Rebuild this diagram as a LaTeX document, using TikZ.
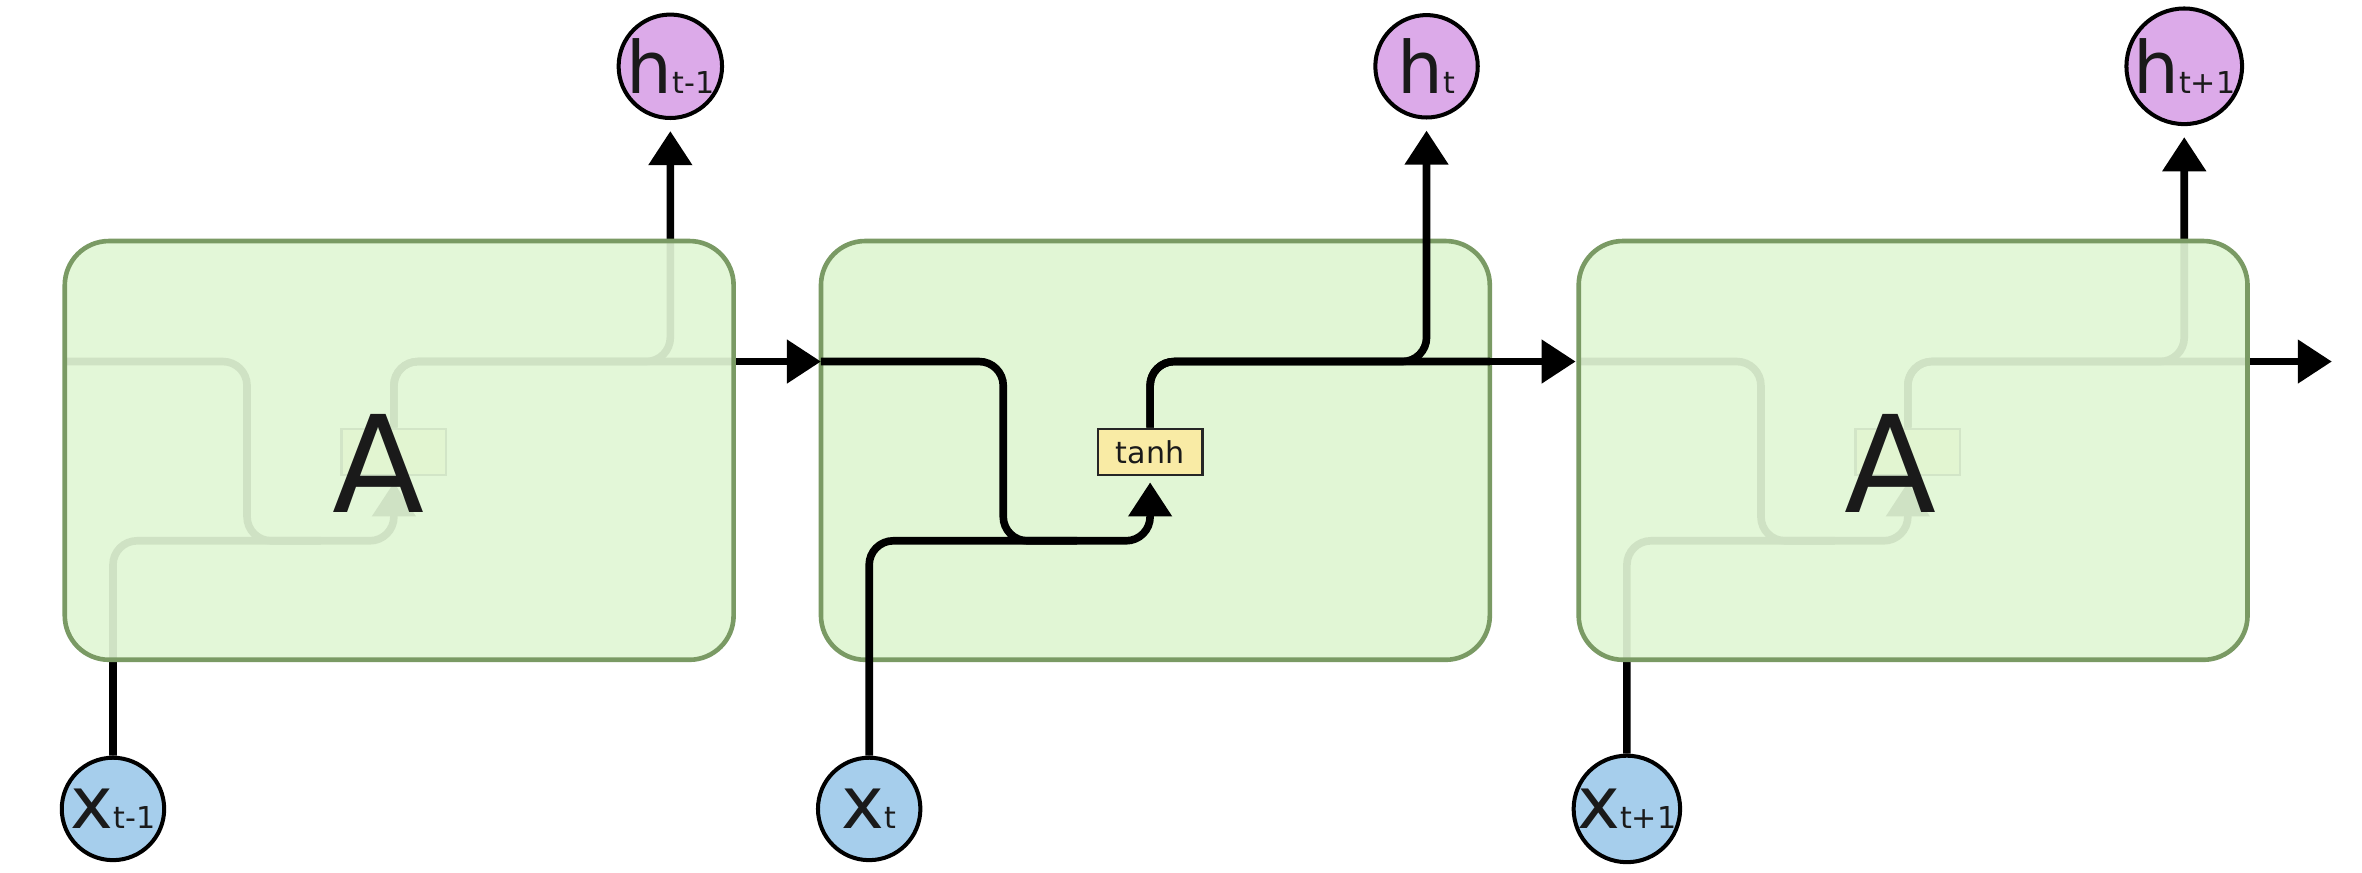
\documentclass[tikz,border=0pt]{standalone}
\usepackage{fontspec}
\setmainfont{DejaVu Sans}
\usetikzlibrary{arrows.meta}
\pgfdeclarelayer{fg}
\pgfsetlayers{main,fg}
\definecolor{boxfill}{RGB}{225,246,213}
\definecolor{boxedge}{RGB}{122,154,100}
\definecolor{hfill}{RGB}{220,170,233}
\definecolor{xfill}{RGB}{166,206,236}
\definecolor{tfill}{RGB}{249,235,165}
\definecolor{ink}{RGB}{26,26,26}
\newcommand\mkcirclab[2]{{\fontsize{36}{36}\selectfont #1}{\fontsize{15}{15}\selectfont #2}}
\begin{document}
\begin{tikzpicture}[x=0.75pt,y=-0.75pt,
  cell/.style={draw=boxedge, line width=2.3pt, fill=boxfill, rounded corners=22pt,
    minimum width=333pt, minimum height=208.5pt, inner sep=0pt},
  fadedcell/.style={cell, fill opacity=0.92},
  bigA/.style={font=\fontsize{67}{67}\selectfont, text=ink, inner sep=0pt, anchor=base},
  hnode/.style={circle, draw=black, line width=2pt, fill=hfill, minimum size=51pt, inner sep=0pt, text=ink},
  xnode/.style={circle, draw=black, line width=2pt, fill=xfill, minimum size=51pt, inner sep=0pt, text=ink},
  tanhbox/.style={draw=black!85, line width=1.3pt, fill=tfill, minimum width=52pt, minimum height=23pt,
    inner sep=0pt, font=\fontsize{15}{15}\selectfont, text=ink},
  wire/.style={draw=black, line width=3.8pt, rounded corners=12pt},
  arr/.style={-{Triangle[length=17pt,width=21pt]}}
]
\useasboundingbox (0,0) rectangle (1568,579);

% middle cell (opaque, lines on top)
\node[cell] (A2) at (767,299) {};

% outer cells drawn on top of their inner wiring (faded)
\begin{pgfonlayer}{fg}
  \node[fadedcell] (A1) at (265,299) {};
  \node[fadedcell] (A3) at (1270,299) {};
  \node[bigA] (lA1) at (251.5,340) {A};
  \node[bigA] (lA3) at (1255,340) {A};
\end{pgfonlayer}

\foreach \i/\L in {1/43, 2/545, 3/1048} {
  \node[hnode] (h\i) at (\L+402,44) {\mkcirclab{h}{\ifcase\i\or t-1\or t\or t+1\fi}};
  \node[xnode] (x\i) at (\L+32,537) {\mkcirclab{x}{\ifcase\i\or t-1\or t\or t+1\fi}};
  \ifnum\i=2
    \node[tanhbox] (t\i) at (\L+218.5,300) {tanh};
  \else
    \node[tanhbox] (t\i) at (\L+218.5,300) {};
  \fi
  \coordinate (c\i in) at (\L,240);
  \coordinate (c\i out) at (\L+444,240);
  \coordinate (c\i drop) at (\L+121,240);
  \coordinate (c\i low) at (\L+121,359);
  \coordinate (c\i up) at (\L+402,240);
  \draw[wire] (c\i in) -- (c\i drop) -- (c\i low) -- (\L+170,359);
  \draw[wire, arr, shorten >=3pt] (x\i.north) |- (c\i low) -| (t\i.south);
  \draw[wire] (t\i.north) |- (c\i out);
  \draw[wire, arr, shorten >=5.5pt] (t\i.north) |- (c\i up) -- (h\i.south);
}

\coordinate (end) at (1548,240);
\draw[wire, arr] (c1out) -- (c2in);
\draw[wire, arr, shorten >=1.5pt] (c2out) -- (c3in);
\draw[wire, arr] (c3out) -- (end);
\end{tikzpicture}
\end{document}
